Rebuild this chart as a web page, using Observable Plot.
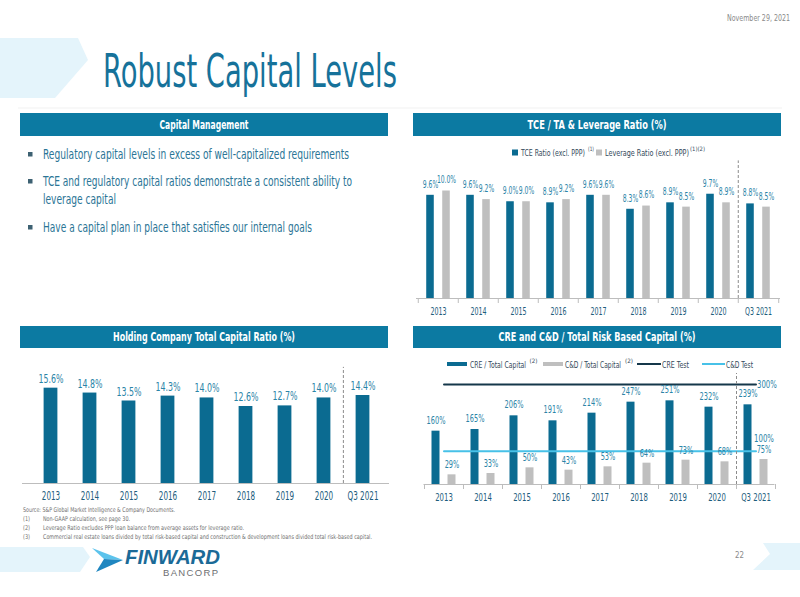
<!DOCTYPE html>
<html><head><meta charset="utf-8">
<script src="https://cdn.jsdelivr.net/npm/d3@7"></script>
<script src="https://cdn.jsdelivr.net/npm/@observablehq/plot@0.6"></script>
<style>
body{margin:0;background:#fff}
#slide{position:relative;width:800px;height:597px;overflow:hidden;background:#fff;font-family:"Liberation Sans Narrow","DejaVu Sans Condensed",sans-serif}
.chart{position:absolute}
</style></head><body>
<div id="slide">
<svg id="deco" width="800" height="597" style="position:absolute;left:0;top:0"></svg>
<div id="c1" class="chart" style="left:400px;top:140px"></div>
<div id="c2" class="chart" style="left:0px;top:355px"></div>
<div id="c3" class="chart" style="left:400px;top:365px"></div>
</div>
<script>
// ---------- DATA ----------
const years = ["2013","2014","2015","2016","2017","2018","2019","2020","Q3 2021"];
const tceRatio = [9.6, 9.6, 9.0, 8.9, 9.6, 8.3, 8.9, 9.7, 8.8];
const leverageRatio = [10.0, 9.2, 9.0, 9.2, 9.6, 8.6, 8.5, 8.9, 8.5];
const totalCapitalRatio = [15.6, 14.8, 13.5, 14.3, 14.0, 12.6, 12.7, 14.0, 14.4];
const creToCapital = [160, 165, 206, 191, 214, 247, 251, 232, 239];
const cdToCapital = [29, 33, 50, 43, 53, 64, 73, 68, 75];
const creTest = 300;
const cdTest = 100;
const tceSeries = ["TCE Ratio (excl. PPP)", "Leverage Ratio (excl. PPP)"];
const tceSeriesNotes = ["(1)", "(1)(2)"];
const creSeries = ["CRE / Total Capital", "C&D / Total Capital", "CRE Test", "C&D Test"];
const creSeriesNotes = ["(2)", "(2)", "", ""];
const panelTitles = ["Capital Management", "TCE / TA & Leverage Ratio (%)", "Holding Company Total Capital Ratio (%)", "CRE and C&D / Total Risk Based Capital (%)"];
const bulletLines = [
  ["Regulatory capital levels in excess of well-capitalized requirements"],
  ["TCE and regulatory capital ratios demonstrate a consistent ability to", "leverage capital"],
  ["Have a capital plan in place that satisfies our internal goals"]
];
const sourceNote = "Source: S&P Global Market Intelligence & Company Documents.";
const footnotes = [
  ["(1)", "Non-GAAP calculation, see page 30."],
  ["(2)", "Leverage Ratio excludes PPP loan balance from average assets for leverage ratio."],
  ["(3)", "Commercial real estate loans divided by total risk-based capital and construction & development loans divided total risk-based capital."]
];
const slideTitle = "Robust Capital Levels";
const slideDate = "November 29, 2021";
const pageNumber = "22";

// ---------- STYLE ----------
const FONT = '"Liberation Sans Narrow","DejaVu Sans Condensed",sans-serif';
const TEAL = "#0b6b91", HEAD = "#0c7aa2", GRAY = "#bfbfbf", LABEL = "#2a84a7", TICK = "#1d5d7c";
const DARKLINE = "#15374a", LIGHTLINE = "#47c1e8", PALE = "#e4f4fb";

// ---------- STATIC SLIDE PARTS ----------
const NS = "http://www.w3.org/2000/svg";
const deco = document.getElementById("deco");
function el(tag, attrs) { const e = document.createElementNS(NS, tag); for (const k in attrs) e.setAttribute(k, attrs[k]); deco.appendChild(e); return e; }
function txt(x, y, s, a = {}) { const t = el("text", Object.assign({x, y, "font-family": FONT}, a)); t.textContent = s; return t; }
function fit(x, y, s, w, a = {}) { return txt(x, y, s, Object.assign({textLength: w, lengthAdjust: "spacingAndGlyphs"}, a)); }

// chevrons
el("polygon", {points: "0,38 78,38 88,60 55,98 0,98", fill: PALE});
el("polygon", {points: "0,547 83,547 90,557 80,572 0,572", fill: PALE});
el("polygon", {points: "763,543 800,543 800,570 753,570 770,554", fill: PALE});
el("line", {x1: 18, x2: 782, y1: 108, y2: 108, stroke: "#f1f1f1", "stroke-width": 1});

// title and date
fit(103, 87, slideTitle, 294, {"font-size": 46, fill: "#16729a"});
fit(727, 21, slideDate, 63, {"font-size": 8, fill: "#8a8a8a"});
fit(735, 558, pageNumber, 9, {"font-size": 9, fill: "#8a8a8a"});

// panel headers
const headerBoxes = [[20, 113, 368, 23, 89], [413, 113, 368, 23, 139], [20, 326, 368, 22, 182], [413, 326, 368, 22, 197]];
panelTitles.forEach((t, i) => {
  const [x, y, w, h, tw] = headerBoxes[i];
  el("rect", {x, y, width: w, height: h, fill: HEAD});
  fit(x + w / 2 - tw / 2, y + h / 2 + 4.3, t, tw, {"font-size": 12.5, "font-weight": "bold", fill: "#fff"});
});

// bullets
const bulletY = [[159], [186, 204], [232]];
const bulletW = [[306], [309, 73], [269]];
bulletLines.forEach((lines, i) => {
  el("rect", {x: 28, y: bulletY[i][0] - 7, width: 4.5, height: 4.5, fill: "#3d6172"});
  lines.forEach((l, j) => fit(43, bulletY[i][j], l, bulletW[i][j], {"font-size": 13.5, fill: "#2b7596"}));
});

// footnotes
fit(23, 511.5, sourceNote, 152, {"font-size": 6.5, fill: "#707070"});
const noteW = [87, 201, 329];
footnotes.forEach(([n, t], i) => {
  const y = 520.5 + i * 9;
  fit(23, y, n, 7, {"font-size": 6.5, fill: "#707070"});
  fit(43, y, t, noteW[i], {"font-size": 6.5, fill: "#707070"});
});

// logo
el("polygon", {points: "92,548 123,560 104,559", fill: "#5cc3ec"});
el("polygon", {points: "104,559 123,560 96,572", fill: "#1f86c0"});
txt(125, 564, "FINWARD", {"font-family": '"Liberation Sans",Arial,sans-serif', "font-size": 20, "font-weight": "bold", "font-style": "italic", fill: "#1b6a97", textLength: 95, lengthAdjust: "spacingAndGlyphs"});
txt(163, 576, "BANCORP", {"font-family": '"Liberation Sans",Arial,sans-serif', "font-size": 9.5, fill: "#6d6e71", textLength: 55, lengthAdjust: "spacing"});

// legends
const legTxt = {"font-size": 9, fill: "#34495a"};
const supTxt = {"font-size": 6, fill: "#34495a"};
el("rect", {x: 512, y: 149.5, width: 6, height: 6, fill: TEAL});
fit(521, 155.5, tceSeries[0], 64, legTxt);
fit(588, 151, tceSeriesNotes[0], 6, supTxt);
el("rect", {x: 596, y: 149.5, width: 6, height: 6, fill: GRAY});
fit(605, 155.5, tceSeries[1], 84, legTxt);
fit(690, 151, tceSeriesNotes[1], 15, supTxt);

el("rect", {x: 447, y: 362, width: 20, height: 4, fill: TEAL});
fit(470, 367.5, creSeries[0], 56, legTxt);
fit(529.5, 363, creSeriesNotes[0], 8, supTxt);
el("rect", {x: 543, y: 362, width: 20, height: 4, fill: GRAY});
fit(565, 367.5, creSeries[1], 56, legTxt);
fit(625, 363, creSeriesNotes[1], 8, supTxt);
el("line", {x1: 637, x2: 661, y1: 364, y2: 364, stroke: DARKLINE, "stroke-width": 2});
fit(662, 367.5, creSeries[2], 27, legTxt);
el("line", {x1: 702, x2: 725, y1: 364, y2: 364, stroke: LIGHTLINE, "stroke-width": 2});
fit(726, 367.5, creSeries[3], 27, legTxt);

// ---------- CHARTS ----------
const pct1 = v => v.toFixed(1) + "%";
const pct0 = v => v.toFixed(0) + "%";
const last = years[years.length - 1];
const baseStyle = {fontFamily: FONT, background: "transparent", overflow: "visible"};

// squeeze the chart texts horizontally to mimic the condensed slide typeface
function condense(svg, factor) {
  svg.querySelectorAll("text").forEach(t => {
    const len = t.getComputedTextLength();
    if (len > 0) {
      t.setAttribute("textLength", (len * factor).toFixed(1));
      t.setAttribute("lengthAdjust", "spacingAndGlyphs");
    }
  });
}

// Chart 1: TCE / TA & Leverage
{
  const W = 400, ML = 16, MR = 20, BW = (W - ML - MR) / years.length, bar = 8;
  const data = years.map((year, i) => ({year, tce: tceRatio[i], lev: leverageRatio[i]}));
  const inset = (BW - bar) / 2;
  const chart = Plot.plot({
    width: W, height: 180, marginLeft: ML, marginRight: MR, marginTop: 29, marginBottom: 22,
    style: baseStyle,
    x: {type: "band", domain: years, padding: 0},
    y: {domain: [0, 12], axis: null},
    marks: [
      Plot.barY(data, {x: "year", y: "tce", fill: TEAL, insetLeft: inset, insetRight: inset, dx: -8}),
      Plot.barY(data, {x: "year", y: "lev", fill: GRAY, insetLeft: inset, insetRight: inset, dx: 8}),
      Plot.text(data, {x: "year", y: "tce", text: d => pct1(d.tce), dx: -8, dy: -11, fill: LABEL, fontSize: 10.5}),
      Plot.text(data, {x: "year", y: "lev", text: d => pct1(d.lev), dx: 8, dy: -11, fill: LABEL, fontSize: 10.5}),
      Plot.ruleY([0], {stroke: "#bdbdbd"}),
      Plot.ruleX(years, {x: d => d, y1: 0, y2: 0, dx: -BW / 2, insetBottom: -5, stroke: "#bdbdbd"}),
      Plot.ruleX([last], {x: d => d, y1: 0, y2: 0, dx: BW / 2, insetBottom: -5, stroke: "#bdbdbd"}),
      Plot.ruleX([last], {x: d => d, y1: 0, y2: 12.8, dx: -BW / 2, stroke: "#8c8c8c", strokeDasharray: "3,2"}),
      Plot.axisX({tickSize: 0, tickPadding: 9, fontSize: 11, fill: TICK, label: null})
    ]
  });
  document.getElementById("c1").appendChild(chart);
  condense(chart, 0.64);
}

// Chart 2: Holding Company Total Capital Ratio
{
  const W = 400, ML = 30, MR = 17, BW = (W - ML - MR) / years.length, bar = 14;
  const data = years.map((year, i) => ({year, v: totalCapitalRatio[i]}));
  const inset = (BW - bar) / 2;
  const chart = Plot.plot({
    width: W, height: 150, marginLeft: ML, marginRight: MR, marginTop: 18, marginBottom: 22,
    style: baseStyle,
    x: {type: "band", domain: years, padding: 0},
    y: {domain: [0, 18], axis: null},
    marks: [
      Plot.barY(data, {x: "year", y: "v", fill: TEAL, insetLeft: inset, insetRight: inset}),
      Plot.text(data, {x: "year", y: "v", text: d => pct1(d.v), dy: -9.5, fill: LABEL, fontSize: 12.5}),
      Plot.ruleY([0], {stroke: "#bdbdbd", insetLeft: -8, insetRight: -6}),
      Plot.ruleX([last], {x: d => d, y1: 0, y2: 19, dx: -BW / 2, stroke: "#8c8c8c", strokeDasharray: "3,2"}),
      Plot.axisX({tickSize: 0, tickPadding: 8, fontSize: 11.5, fill: TICK, label: null})
    ]
  });
  document.getElementById("c2").appendChild(chart);
  condense(chart, 0.7);
}

// Chart 3: CRE and C&D / Total Risk Based Capital
{
  const W = 400, ML = 23.5, MR = 25.5, BW = (W - ML - MR) / years.length, bar = 8;
  const data = years.map((year, i) => ({year, cre: creToCapital[i], cd: cdToCapital[i]}));
  const inset = (BW - bar) / 2;
  const H = 141, MB = 22, YMAX = 350;
  const chart = Plot.plot({
    width: W, height: H, marginLeft: ML, marginRight: MR, marginBottom: MB, marginTop: H - MB - YMAX / 3,
    style: baseStyle,
    x: {type: "band", domain: years, padding: 0},
    y: {domain: [0, YMAX], axis: null},
    marks: [
      Plot.barY(data, {x: "year", y: "cre", fill: TEAL, insetLeft: inset, insetRight: inset, dx: -8}),
      Plot.barY(data, {x: "year", y: "cd", fill: GRAY, insetLeft: inset, insetRight: inset, dx: 8}),
      Plot.lineY(years, {x: d => d, y: creTest, stroke: DARKLINE, strokeWidth: 2}),
      Plot.lineY(years, {x: d => d, y: cdTest, stroke: LIGHTLINE, strokeWidth: 2}),
      Plot.text(data, {x: "year", y: "cre", text: d => pct0(d.cre), dx: -8, dy: -11, fill: LABEL, fontSize: 10.5}),
      Plot.text(data, {x: "year", y: "cd", text: d => pct0(d.cd), dx: 8, dy: -10, fill: LABEL, fontSize: 10.5}),
      Plot.text([last], {x: d => d, y: creTest, text: () => pct0(creTest), dx: 1, textAnchor: "start", fill: LABEL, fontSize: 11}),
      Plot.text([last], {x: d => d, y: cdTest, text: () => pct0(cdTest), dx: 8, dy: -13, fill: LABEL, fontSize: 11}),
      Plot.ruleY([0], {stroke: "#bdbdbd"}),
      Plot.ruleX(years, {x: d => d, y1: 0, y2: 0, dx: -BW / 2, insetBottom: -5, stroke: "#bdbdbd"}),
      Plot.ruleX([last], {x: d => d, y1: 0, y2: 0, dx: BW / 2, insetBottom: -5, stroke: "#bdbdbd"}),
      Plot.ruleX([last], {x: d => d, y1: 0, y2: 333, dx: -BW / 2, stroke: "#8c8c8c", strokeDasharray: "3,2"}),
      Plot.axisX({tickSize: 0, tickPadding: 9, fontSize: 11, fill: TICK, label: null})
    ]
  });
  document.getElementById("c3").appendChild(chart);
  condense(chart, 0.7);
}
</script>
</body></html>
